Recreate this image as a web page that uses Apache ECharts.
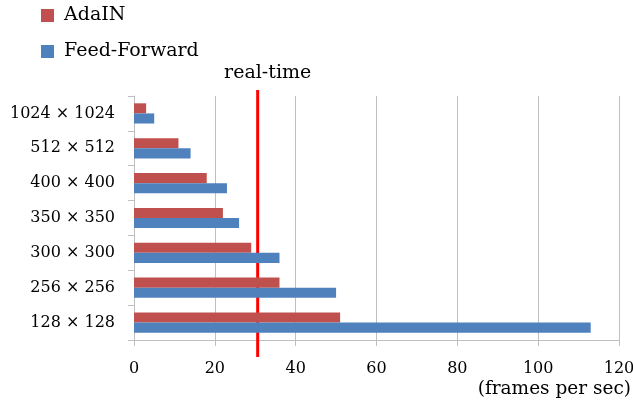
<!DOCTYPE html>
<html>
<head>
<meta charset="utf-8">
<script src="https://cdn.jsdelivr.net/npm/echarts@6/dist/echarts.min.js"></script>
<style>
  html, body { margin: 0; padding: 0; background: #fff; }
  #chart { width: 633px; height: 404px; }
</style>
</head>
<body>
<div id="chart"></div>
<script>
const SIZES = ['128 × 128', '256 × 256', '300 × 300', '350 × 350', '400 × 400', '512 × 512', '1024 × 1024']
const ADAIN_FPS = [51, 36, 29, 22, 18, 11, 3]
const FEED_FORWARD_FPS = [113, 50, 36, 26, 23, 14, 5]
const X_TICKS = [0, 20, 40, 60, 80, 100, 120]
const REALTIME_FPS = [30.6]

const FONT = '"DejaVu Serif", serif'
const GRID_GRAY = '#bfbfbf'

const chart = echarts.init(document.getElementById('chart'), null, { renderer: 'canvas' })

chart.setOption({
  animation: false,
  backgroundColor: '#fff',
  legend: {
    data: ['AdaIN', 'Feed-Forward'],
    orient: 'vertical',
    left: 41,
    top: 6,
    padding: 0,
    itemWidth: 13,
    itemHeight: 13,
    itemGap: 17,
    icon: 'rect',
    textStyle: { fontFamily: FONT, fontSize: 19, color: '#000', padding: [0, 0, 0, 5] },
  },
  grid: { left: 134, right: 14, top: 96, bottom: 64, outerBoundsMode: 'none' },
  xAxis: {
    type: 'value',
    min: X_TICKS[0],
    max: X_TICKS[X_TICKS.length - 1],
    interval: 20,
    axisLine: { show: true, lineStyle: { color: GRID_GRAY } },
    axisTick: { show: true, length: 6, lineStyle: { color: GRID_GRAY } },
    splitLine: { show: true, lineStyle: { color: GRID_GRAY } },
    axisLabel: { fontFamily: FONT, fontSize: 16, color: '#000', margin: 21 },
  },
  yAxis: {
    type: 'category',
    data: SIZES,
    axisLine: { show: true, lineStyle: { color: GRID_GRAY } },
    axisTick: { show: true, length: 6, lineStyle: { color: GRID_GRAY } },
    axisLabel: { fontFamily: FONT, fontSize: 16, color: '#000', margin: 19 },
  },
  graphic: [{
    type: 'text',
    right: 2,
    top: 380,
    style: { text: '(frames per sec)', font: '18.5px ' + FONT, fill: '#000' },
  }],
  series: [
    {
      name: 'AdaIN',
      type: 'bar',
      data: ADAIN_FPS,
      barGap: '0%',
      barCategoryGap: '42%',
      itemStyle: { color: '#c0504d' },
    },
    {
      name: 'Feed-Forward',
      type: 'bar',
      data: FEED_FORWARD_FPS,
      barGap: '0%',
      barCategoryGap: '42%',
      itemStyle: { color: '#4f81bd' },
    },
    {
      type: 'custom',
      silent: true,
      data: REALTIME_FPS.map(v => [v]),
      encode: { x: 0 },
      renderItem: (params, api) => {
        const x = api.coord([api.value(0), 0])[0]
        const cs = params.coordSys
        return {
          type: 'group',
          children: [
            {
              type: 'line',
              shape: { x1: x, y1: cs.y - 6, x2: x, y2: cs.y + cs.height + 17 },
              style: { stroke: '#ff0000', lineWidth: 3 },
            },
            {
              type: 'text',
              x: x + 10,
              y: cs.y - 23,
              style: {
                text: 'real-time', font: '19px ' + FONT, fill: '#000',
                align: 'center', verticalAlign: 'middle',
              },
            },
          ],
        }
      },
    },
  ],
})
</script>
</body>
</html>
